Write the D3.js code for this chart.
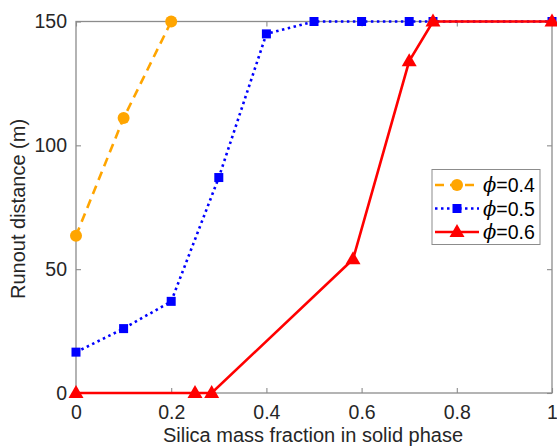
<!DOCTYPE html>
<html><head><meta charset="utf-8">
<script src="https://cdn.jsdelivr.net/npm/d3@7"></script>
<style>body{margin:0;background:#fff;} svg{display:block;font-family:"Liberation Sans",Arial,sans-serif;}</style>
</head><body>
<svg id="c" width="557" height="447"></svg>
<script>
const xTicks = [0, 0.2, 0.4, 0.6, 0.8, 1];
const yTicks = [0, 50, 100, 150];
const x04 = [0, 0.1, 0.2];
const y04 = [63.5, 111, 150];
const x05 = [0, 0.1, 0.2, 0.3, 0.4, 0.5, 0.6, 0.7, 0.75, 1];
const y05 = [16.5, 26, 37, 87, 145, 150, 150, 150, 150, 150];
const x06 = [0, 0.25, 0.285, 0.582, 0.7, 0.75, 1];
const y06 = [0, 0, 0, 54, 134, 150, 150];
const labels = ["=0.4", "=0.5", "=0.6"];

const svg = d3.select("#c");
const L = 76, R = 552, T = 21.5, B = 393;
const x = d3.scaleLinear().domain([0, 1]).range([L, R]);
const y = d3.scaleLinear().domain([0, 150]).range([B, T]);
const axisCol = "#8c8c8c", textCol = "#262626", fs = 19.5;

// box
svg.append("rect").attr("x", L).attr("y", T).attr("width", R - L).attr("height", B - T)
  .attr("fill", "none").attr("stroke", axisCol).attr("stroke-width", 1.3);

const gx = svg.append("g").attr("transform", `translate(0,${B})`)
  .call(d3.axisBottom(x).tickValues(xTicks).tickFormat(d3.format("")).tickSizeInner(-5).tickSizeOuter(0).tickPadding(12));
const gxt = svg.append("g").attr("transform", `translate(0,${T})`)
  .call(d3.axisTop(x).tickValues(xTicks).tickFormat("").tickSizeInner(-5).tickSizeOuter(0));
const gy = svg.append("g").attr("transform", `translate(${L},0)`)
  .call(d3.axisLeft(y).tickValues(yTicks).tickSizeInner(-5).tickSizeOuter(0).tickPadding(9));
const gyr = svg.append("g").attr("transform", `translate(${R},0)`)
  .call(d3.axisRight(y).tickValues(yTicks).tickFormat("").tickSizeInner(-5).tickSizeOuter(0));
[gx, gxt, gy, gyr].forEach(g => {
  g.select(".domain").remove();
  g.selectAll("line").attr("stroke", axisCol).attr("stroke-width", 1.1);
  g.selectAll("text").attr("fill", textCol).style("font-size", fs + "px").style("font-family", '"Liberation Sans",Arial,sans-serif');
});
gx.selectAll("text").attr("dy", "0.71em");

svg.append("text").attr("x", 313).attr("y", 442).attr("text-anchor", "middle")
  .attr("fill", textCol).style("font-size", "20px").text("Silica mass fraction in solid phase");
svg.append("text").attr("transform", `translate(25,209) rotate(-90)`).attr("text-anchor", "middle")
  .attr("fill", textCol).style("font-size", "20px").text("Runout distance (m)");

const line = d3.line().x(d => x(d[0])).y(d => y(d[1]));
const series = [
  {xs: x04, ys: y04, color: "#FFA500", dash: "9,6", marker: "circle"},
  {xs: x05, ys: y05, color: "#0000FF", dash: "2.5,3.5", marker: "square"},
  {xs: x06, ys: y06, color: "#FF0000", dash: null, marker: "triangle"}
];
function drawMarker(g, type, cx, cy, color) {
  if (type === "circle") g.append("circle").attr("cx", cx).attr("cy", cy).attr("r", 6).attr("fill", color);
  else if (type === "square") g.append("rect").attr("x", cx - 4.5).attr("y", cy - 4.5).attr("width", 9).attr("height", 9).attr("fill", color);
  else g.append("path").attr("d", `M${cx},${cy - 8}L${cx + 7.5},${cy + 5}L${cx - 7.5},${cy + 5}Z`).attr("fill", color);
}
series.forEach(s => {
  const pts = s.xs.map((v, i) => [v, s.ys[i]]);
  const g = svg.append("g");
  g.append("path").attr("d", line(pts)).attr("fill", "none").attr("stroke", s.color)
    .attr("stroke-width", 2.6).attr("stroke-dasharray", s.dash);
  pts.forEach(p => drawMarker(g, s.marker, x(p[0]), y(p[1]), s.color));
});

// legend
const lg = svg.append("g");
lg.append("rect").attr("x", 432).attr("y", 169.5).attr("width", 108).attr("height", 75)
  .attr("fill", "#fff").attr("stroke", axisCol).attr("stroke-width", 1);
series.forEach((s, i) => {
  const yy = 185 + i * 23.5;
  lg.append("line").attr("x1", 435).attr("x2", 479).attr("y1", yy).attr("y2", yy)
    .attr("stroke", s.color).attr("stroke-width", 2.6).attr("stroke-dasharray", s.dash);
  drawMarker(lg, s.marker, 457, yy, s.color);
  const t = lg.append("text").attr("x", 483).attr("y", yy + 7).attr("fill", "#000").style("font-size", fs + "px");
  t.append("tspan").style("font-family", '"DejaVu Serif",serif').style("font-style", "italic").text("ϕ");
  t.append("tspan").text(labels[i]);
});
</script>
</body></html>
